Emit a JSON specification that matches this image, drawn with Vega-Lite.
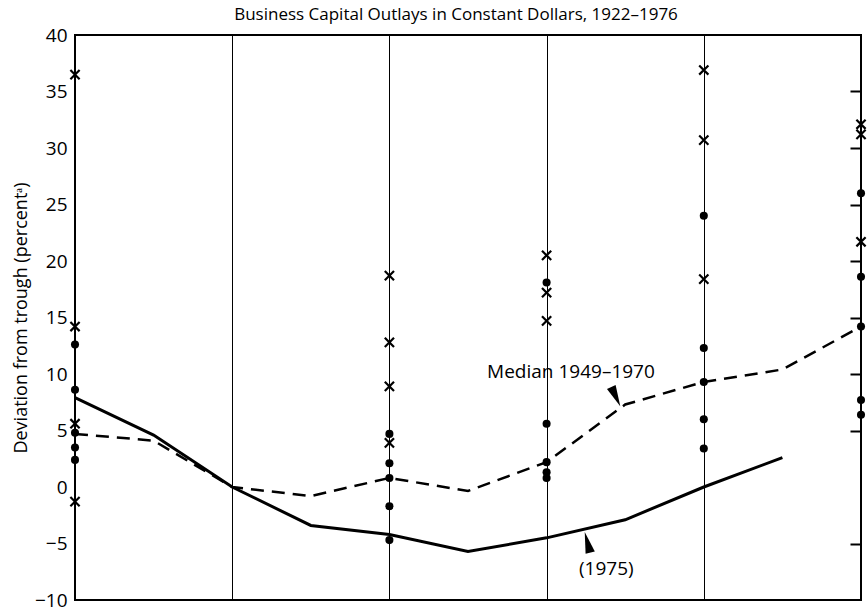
{
  "$schema": "https://vega.github.io/schema/vega-lite/v6.json",
  "autosize": "none",
  "width": 786,
  "height": 565,
  "padding": {"left": 75, "top": 35, "right": 7, "bottom": 9},
  "background": "white",
  "config": {
    "view": {"stroke": "black", "strokeWidth": 2},
    "font": "Open Sans"
  },
  "title": {
    "text": "Business Capital Outlays in Constant Dollars, 1922–1976",
    "fontSize": 17,
    "fontWeight": "normal",
    "font": "Open Sans",
    "color": "black",
    "offset": 2,
    "dx": -12
  },
  "datasets": {
    "line1975": [
      {"pos": 0, "value": 7.9},
      {"pos": 0.5, "value": 4.6},
      {"pos": 1, "value": 0},
      {"pos": 1.5, "value": -3.4},
      {"pos": 2, "value": -4.2},
      {"pos": 2.5, "value": -5.7},
      {"pos": 3, "value": -4.5},
      {"pos": 3.5, "value": -2.9},
      {"pos": 4, "value": 0},
      {"pos": 4.5, "value": 2.6}
    ],
    "median": [
      {"pos": 0, "value": 4.7},
      {"pos": 0.5, "value": 4.1},
      {"pos": 1, "value": 0},
      {"pos": 1.5, "value": -0.8},
      {"pos": 2, "value": 0.8},
      {"pos": 2.5, "value": -0.35},
      {"pos": 3, "value": 2.2},
      {"pos": 3.5, "value": 7.3},
      {"pos": 4, "value": 9.3},
      {"pos": 4.5, "value": 10.4},
      {"pos": 5, "value": 14.2}
    ],
    "crosses": [
      {"pos": 0, "value": 36.5},
      {"pos": 0, "value": 14.2},
      {"pos": 0, "value": 5.6},
      {"pos": 0, "value": -1.3},
      {"pos": 2, "value": 18.7},
      {"pos": 2, "value": 12.8},
      {"pos": 2, "value": 8.9},
      {"pos": 2, "value": 3.9},
      {"pos": 3, "value": 20.5},
      {"pos": 3, "value": 17.2},
      {"pos": 3, "value": 14.7},
      {"pos": 4, "value": 36.9},
      {"pos": 4, "value": 30.7},
      {"pos": 4, "value": 18.4},
      {"pos": 5, "value": 32.1},
      {"pos": 5, "value": 31.2},
      {"pos": 5, "value": 21.7}
    ],
    "dots": [
      {"pos": 0, "value": 12.6},
      {"pos": 0, "value": 8.6},
      {"pos": 0, "value": 4.8},
      {"pos": 0, "value": 3.5},
      {"pos": 0, "value": 2.4},
      {"pos": 2, "value": 4.7},
      {"pos": 2, "value": 2.1},
      {"pos": 2, "value": 0.8},
      {"pos": 2, "value": -1.7},
      {"pos": 2, "value": -4.7},
      {"pos": 3, "value": 18.1},
      {"pos": 3, "value": 5.6},
      {"pos": 3, "value": 2.2},
      {"pos": 3, "value": 1.3},
      {"pos": 3, "value": 0.8},
      {"pos": 4, "value": 24.0},
      {"pos": 4, "value": 12.3},
      {"pos": 4, "value": 9.3},
      {"pos": 4, "value": 6.0},
      {"pos": 4, "value": 3.4},
      {"pos": 5, "value": 26.0},
      {"pos": 5, "value": 18.6},
      {"pos": 5, "value": 14.2},
      {"pos": 5, "value": 7.7},
      {"pos": 5, "value": 6.4}
    ],
    "leftTicks": [
      {"value": -5}, {"value": 5}, {"value": 10}, {"value": 15},
      {"value": 20}, {"value": 25}, {"value": 30}, {"value": 35}
    ],
    "labels": [
      {"pos": 3.155, "value": 10.2, "label": "Median 1949–1970"},
      {"pos": 3.38, "value": -7.3, "label": "(1975)"}
    ],
    "pointers": [
      {"pos": 3.44, "value": 8.0, "angle": -25},
      {"pos": 3.26, "value": -4.9, "angle": 165}
    ]
  },
  "encoding": {
    "x": {
      "field": "pos",
      "type": "quantitative",
      "scale": {"domain": [0, 5], "nice": false, "zero": false}
    },
    "y": {
      "field": "value",
      "type": "quantitative",
      "scale": {"domain": [-10, 40], "nice": false, "zero": false}
    }
  },
  "layer": [
    {
      "data": {"values": [{"z": 0}]},
      "mark": {"type": "rule", "color": "black", "strokeWidth": 1.2},
      "encoding": {
        "x": null,
        "y": {"datum": 0, "type": "quantitative", "axis": null}
      }
    },
    {
      "data": {"name": "leftTicks"},
      "mark": {"type": "rule", "color": "black", "strokeWidth": 2},
      "encoding": {
        "x": {"datum": 0, "type": "quantitative"},
        "x2": {"datum": 0.076},
        "y": {"field": "value", "type": "quantitative", "axis": null}
      }
    },
    {
      "data": {"name": "median"},
      "mark": {"type": "line", "color": "black", "strokeWidth": 2.5, "strokeDash": [13, 8]},
      "encoding": {
        "x": {
          "field": "pos",
          "type": "quantitative",
          "scale": {"domain": [0, 5], "nice": false, "zero": false},
          "axis": {
            "values": [1, 2, 3, 4],
            "grid": true,
            "gridColor": "black",
            "gridWidth": 1,
            "gridOpacity": 1,
            "labels": false,
            "ticks": false,
            "domain": false,
            "title": null
          }
        },
        "y": {
          "field": "value",
          "type": "quantitative",
          "axis": {
            "orient": "left",
            "values": [-10, -5, 0, 5, 10, 15, 20, 25, 30, 35, 40],
            "grid": false,
            "domain": false,
            "ticks": false,
            "labelFontSize": 19,
            "labelColor": "black",
            "labelFont": "Open Sans",
            "labelPadding": 8,
            "title": "Deviation from trough (percentᵃ)",
            "titleFontSize": 18,
            "titleFontWeight": "normal",
            "titleFont": "Open Sans",
            "titleColor": "black",
            "titlePadding": 4
          }
        }
      }
    },
    {
      "data": {"name": "line1975"},
      "mark": {"type": "line", "color": "black", "strokeWidth": 3},
      "encoding": {
        "y": {
          "field": "value",
          "type": "quantitative",
          "axis": {
            "orient": "right",
            "values": [-5, 5, 10, 15, 20, 25, 30, 35],
            "grid": false,
            "domain": false,
            "labels": false,
            "tickSize": -11,
            "tickWidth": 2,
            "tickColor": "black",
            "title": null
          }
        }
      }
    },
    {
      "data": {"name": "dots"},
      "mark": {"type": "circle", "color": "black", "opacity": 1, "size": 65},
      "encoding": {"y": {"field": "value", "type": "quantitative", "axis": null}}
    },
    {
      "data": {"name": "crosses"},
      "mark": {
        "type": "point",
        "shape": "M-1,-1L1,1M-1,1L1,-1",
        "filled": false,
        "color": "black",
        "strokeWidth": 2.2,
        "size": 85,
        "opacity": 1
      },
      "encoding": {"y": {"field": "value", "type": "quantitative", "axis": null}}
    },
    {
      "data": {"name": "pointers"},
      "mark": {
        "type": "point",
        "shape": "M-0.45,-1L0.45,-1L0,1Z",
        "filled": true,
        "color": "black",
        "size": 450,
        "opacity": 1
      },
      "encoding": {
        "y": {"field": "value", "type": "quantitative", "axis": null},
        "angle": {"field": "angle", "type": "quantitative", "scale": null}
      }
    },
    {
      "data": {"name": "labels"},
      "mark": {"type": "text", "color": "black", "fontSize": 19, "font": "Open Sans", "align": "center", "baseline": "middle"},
      "encoding": {
        "y": {"field": "value", "type": "quantitative", "axis": null},
        "text": {"field": "label"}
      }
    }
  ],
  "resolve": {"axis": {"y": "independent"}}
}
